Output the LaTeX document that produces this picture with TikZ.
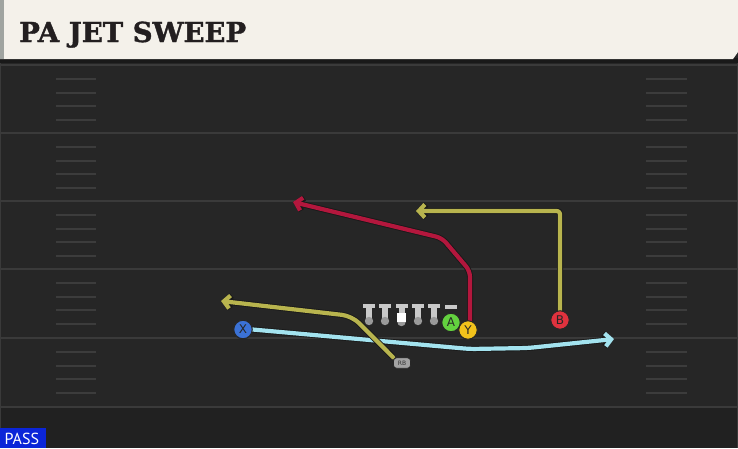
\documentclass[tikz,border=0pt]{standalone}
\usepackage{fontspec}
\setmainfont{DejaVu Sans}
\newfontfamily\titlefont[FakeBold=1.4]{DejaVu Serif Bold}
\newfontfamily\passfont{PT Sans}
\usetikzlibrary{arrows.meta}
\definecolor{fieldbg}{HTML}{262626}
\definecolor{fieldlow}{HTML}{212121}
\definecolor{yardgray}{HTML}{3A3A3A}
\definecolor{hashgray}{HTML}{3C3C3C}
\definecolor{headerbg}{HTML}{F4F1EA}
\definecolor{headerstrip}{HTML}{A0A4A0}
\definecolor{titlecol}{HTML}{231F20}
\definecolor{routered}{HTML}{B3173D}
\definecolor{routeolive}{HTML}{B8B44E}
\definecolor{routeblue}{HTML}{A3E3EF}
\definecolor{pgreen}{HTML}{63D13F}
\definecolor{pyellow}{HTML}{F2C21B}
\definecolor{pred}{HTML}{E0323E}
\definecolor{pblue}{HTML}{3B72D6}
\definecolor{rbgray}{HTML}{A3A3A3}
\definecolor{linegray}{HTML}{C9C9C9}
\definecolor{linedark}{HTML}{9A9A9A}
\definecolor{passblue}{HTML}{0B25D8}
\begin{document}
\begin{tikzpicture}[x=1pt,y=-1pt,
  yard/.style={draw=yardgray, line width=2pt},
  hashmark/.style={draw=hashgray, line width=1.8pt},
  route/.style={line width=4.2pt, line join=round, line cap=round, rounded corners=6pt,
    -{Straight Barb[length=6pt,width=13pt]},
    preaction={draw=black!90, line width=6pt}},
  player/.style={circle, draw=black!85, line width=1pt, minimum size=18.5pt, inner sep=0pt,
    font=\fontsize{12}{12}\selectfont, text=black!85},
  rbbox/.style={rounded corners=3pt, draw=black!85, line width=0.8pt, fill=rbgray,
    minimum width=17pt, minimum height=10.5pt, inner sep=0pt, font=\fontsize{6}{6}\selectfont, text=black!80}
]
\useasboundingbox (0,0) rectangle (738,448);
% background
\fill[fieldbg] (0,0) rectangle (738,448);
\fill[fieldlow] (0,407) rectangle (738,448);
\fill[black!90] (0,58) rectangle (738,63);
\draw[yardgray, line width=1pt] (0.5,63) -- (0.5,448);
\draw[yardgray, line width=1pt] (737.5,63) -- (737.5,448);
% header
\fill[headerbg] (0,0) -- (738,0) -- (738,52) -- (733,59) -- (0,59) -- cycle;
\fill[headerstrip] (0,0) rectangle (4,59);
\node[anchor=base west, inner sep=0pt, text=titlecol,
  font=\titlefont\fontsize{27.5}{28}\selectfont] (title) at (19,42) {PA JET SWEEP};
% yard lines
\foreach \yy in {65,133,201,269,338,407} {
  \draw[yard] (0,\yy) -- (738,\yy);
}
% hash marks
\foreach \yy in {65,133,201,269,338} {
  \foreach \off in {14,28,41,55} {
    \draw[hashmark] (56,\yy+\off) -- (96,\yy+\off);
    \draw[hashmark] (646,\yy+\off) -- (687,\yy+\off);
  }
}
% players (nodes)
\node[player, fill=pblue] (X) at (243,329.5) {X};
\node[player, fill=pyellow] (Y) at (468,330) {Y};
\node[player, fill=pred] (B) at (560,320) {B};
\node[rbbox] (RB) at (402,363) {RB};
% route endpoints
\coordinate (r1) at (470,271);
\coordinate (r2) at (442,238);
\coordinate (rEnd) at (293,202);
\coordinate (b1) at (560,211);
\coordinate (bEnd) at (416,211);
\coordinate (rb1) at (352,316);
\coordinate (rbEnd) at (221,301);
\coordinate (x1) at (470,349);
\coordinate (x2) at (528,348);
\coordinate (xEnd) at (614,339);
% routes
\draw[route, routeblue] (X.east) -- (x1) -- (x2) -- (xEnd);
\draw[route, routeolive, rounded corners=10pt] (RB.north west) -- (rb1) -- (rbEnd);
\draw[route, routeolive, rounded corners=3pt] (B.north) -- (b1) -- (bEnd);
\draw[route, routered] (470,322) -- (r1) -- (r2) -- (rEnd);
% linemen
\foreach \lx in {369,385,418,434} {
  \fill[linegray] (\lx-6,303.5) rectangle (\lx+6,307.5);
  \fill[linegray] (\lx-3,307.5) rectangle (\lx+3,318);
  \fill[linedark] (\lx,321) circle (4.2);
}
\fill[linegray] (395.5,303.5) rectangle (407.5,307.5);
\fill[linegray] (398.5,307.5) rectangle (404.5,313);
\fill[linedark] (401.5,322) circle (4.2);
\fill[white] (397,313) rectangle (406,321.5);
\fill[linegray] (445,305) rectangle (457,308.5);
% players on top
\node[player, fill=pgreen] (A) at (451,322.5) {A};
\node[player, fill=pyellow] at (Y) {Y};
\node[player, fill=pblue] at (X) {X};
\node[player, fill=pred] at (B) {B};
\node[rbbox] at (RB) {RB};
% PASS label
\fill[passblue] (0,427.5) rectangle (46,448);
\node[anchor=base west, inner sep=0pt, text=white,
  font=\passfont\fontsize{16}{16}\selectfont] (pass) at (4.5,444) {PASS};
\end{tikzpicture}
\end{document}
